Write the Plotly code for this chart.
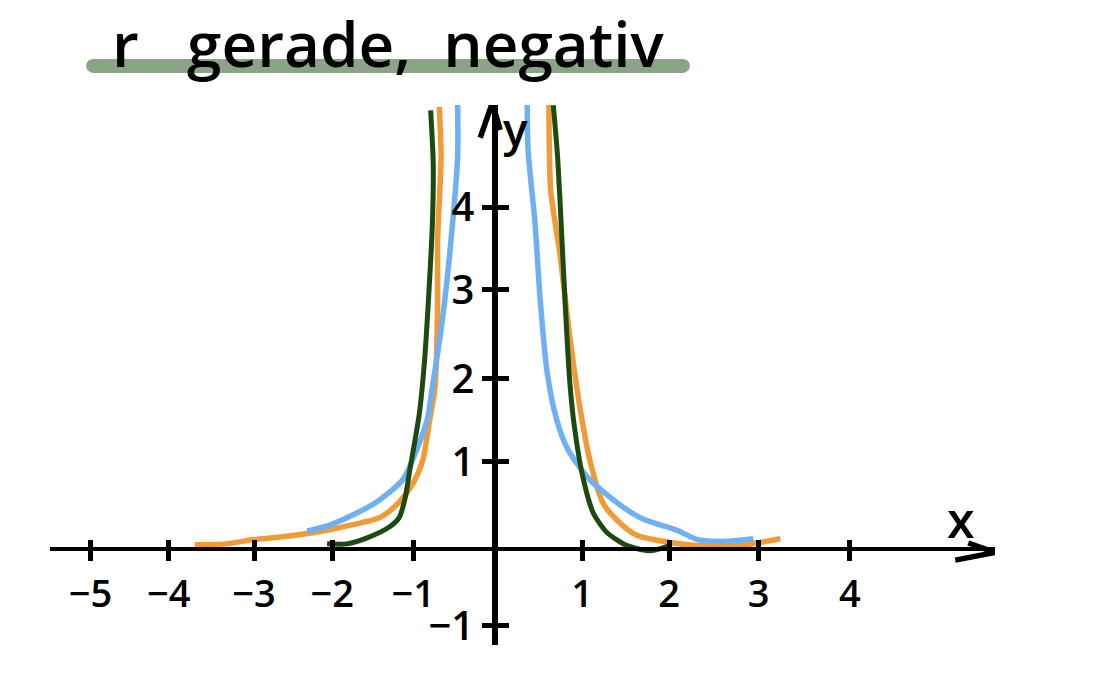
import plotly.graph_objects as go

# Curve values
orange_left_x = [-3.45,-3.10,-2.77,-2.47,-2.09,-1.70,-1.32,-1.11,-.94,-.83,-.75,-.69,-.66,-.66,-.62,-.64]
orange_left_y = [.05,.06,.11,.14,.19,.27,.37,.54,.77,1.04,1.51,1.89,2.83,3.61,4.58,5.17]
orange_right_x = [.62,.64,.75,.86,.94,1.00,1.09,1.24,1.40,1.63,2.05,2.32,2.82,3.01,3.28]
orange_right_y = [5.22,4.20,3.42,2.48,1.89,1.51,1.04,.54,.34,.16,.07,.04,.04,.07,.12]
blue_left_x = [-2.16,-1.90,-1.63,-1.36,-1.06,-.90,-.78,-.72,-.61,-.52,-.43,-.43]
blue_left_y = [.21,.28,.40,.55,.81,1.16,1.51,1.89,2.64,3.46,4.58,5.23]
blue_right_x = [.37,.38,.46,.52,.60,.71,.84,1.09,1.47,1.70,2.09,2.33,2.67,2.97]
blue_right_y = [5.22,4.67,3.81,2.91,2.06,1.51,1.16,.81,.49,.35,.22,.11,.09,.12]
green_left_x = [-1.93,-1.70,-1.47,-1.21,-1.10,-1.03,-.98,-.92,-.87,-.81,-.76,-.72,-.71,-.74]
green_left_y = [.06,.06,.13,.26,.37,.61,.92,1.27,1.58,2.20,3.00,3.80,4.51,5.13]
green_right_x = [.67,.72,.77,.81,.86,.91,1.01,1.13,1.29,1.52,1.78,2.01]
green_right_y = [5.19,4.58,3.61,2.80,1.95,1.45,.84,.42,.19,.04,-.02,.04]

# Tick marks sit where they were hand-drawn, so they are not evenly spaced
x_tick_vals = [-4.65,-3.75,-2.77,-1.87,-.94,1.0,2.0,3.03,4.08]
x_tick_text = ["−5","−4","−3","−2","−1","1","2","3","4"]
y_tick_vals = [-.9,1.02,1.99,3.03,4.0]
y_tick_text = ["−1","1","2","3","4"]

x_arrow_x = [5.44,5.75,5.29]
x_arrow_y = [.07,-.04,-.13]
y_arrow_x = [-.17,-.03,.06]
y_arrow_y = [4.81,5.22,4.90]

title_text = "r\u00a0\u00a0\u00a0gerade,\u00a0\u00a0negativ"
title_bar_x = [-4.62,2.16]
title_bar_y = [5.65,5.65]

ORANGE, BLUE, GREEN, BAR = "#f19a38", "#6fb0f5", "#1d4a10", "#8aa585"
W, H = 1114, 677
X0, XU, Y0, YU = 495, 87, 549, 85.5
XL, XR, YB, YT = 50, 995, 645, 105
xr = [(XL-X0)/XU, (XR-X0)/XU]
yr = [(Y0-YB)/YU, (Y0-YT)/YU]
FONT = "Open Sans"

fig = go.Figure()
for xs, ys, col, w in [
    (orange_left_x, orange_left_y, ORANGE, 5.5),
    (orange_right_x, orange_right_y, ORANGE, 5.5),
    (blue_left_x, blue_left_y, BLUE, 5.5),
    (blue_right_x, blue_right_y, BLUE, 5.5),
    (green_left_x, green_left_y, GREEN, 5),
    (green_right_x, green_right_y, GREEN, 5),
]:
    fig.add_trace(go.Scatter(x=xs, y=ys, mode="lines", showlegend=False, hoverinfo="skip",
                             line=dict(color=col, width=w, shape="spline", smoothing=0.7)))

for xs, ys in [(x_arrow_x, x_arrow_y), (y_arrow_x, y_arrow_y)]:
    fig.add_trace(go.Scatter(x=xs, y=ys, xaxis="x2", yaxis="y2", mode="lines", showlegend=False,
                             hoverinfo="skip", line=dict(color="black", width=5.5)))

fig.add_trace(go.Scatter(x=title_bar_x, y=title_bar_y, xaxis="x3", yaxis="y3", mode="lines+markers",
                         showlegend=False, hoverinfo="skip",
                         line=dict(color=BAR, width=14), marker=dict(color=BAR, size=14)))

dom_x = [XL/W, XR/W]
dom_y = [(H-YB)/H, (H-YT)/H]
pos_x = (H-Y0)/H
pos_y = X0/W

fig.update_layout(
    width=W, height=H, margin=dict(l=0, r=0, t=0, b=0, autoexpand=False),
    paper_bgcolor="white", plot_bgcolor="rgba(0,0,0,0)", showlegend=False,
    font=dict(family=FONT, color="black"),
    xaxis=dict(domain=dom_x, range=xr, anchor="free", position=pos_x, showgrid=False, zeroline=False,
               showline=True, linecolor="black", linewidth=4,
               ticks="outside", ticklen=10, tickwidth=4.5, tickcolor="black",
               tickvals=x_tick_vals, ticktext=x_tick_text, ticklabelstandoff=0,
               tickfont=dict(size=38, family=FONT, weight=600)),
    yaxis=dict(domain=dom_y, range=yr, anchor="free", position=pos_y, showgrid=False, zeroline=False,
               showline=True, linecolor="black", linewidth=5.5,
               ticks="outside", ticklen=10, tickwidth=4.5, tickcolor="black",
               tickvals=y_tick_vals, ticktext=y_tick_text, ticklabelstandoff=0,
               tickfont=dict(size=40, family=FONT, weight=600)),
    xaxis2=dict(domain=dom_x, range=xr, anchor="free", position=pos_x, overlaying="x", side="top",
                showgrid=False, zeroline=False, showline=False, showticklabels=False,
                ticks="outside", ticklen=9, tickwidth=4.5, tickcolor="black", tickvals=x_tick_vals),
    yaxis2=dict(domain=dom_y, range=yr, anchor="free", position=pos_y, overlaying="y", side="right",
                showgrid=False, zeroline=False, showline=False, showticklabels=False,
                ticks="outside", ticklen=13, tickwidth=4.5, tickcolor="black", tickvals=y_tick_vals),
    xaxis3=dict(domain=[0, 1], range=[-X0/XU, (W-X0)/XU], anchor="y3", visible=False),
    yaxis3=dict(domain=[0, 1], range=[(Y0-H)/YU, Y0/YU], anchor="x3", visible=False),
    annotations=[
        dict(x=388/W, y=1-43/H, xref="paper", yref="paper", text=title_text, showarrow=False,
             xanchor="center", yanchor="middle",
             font=dict(size=62, family=FONT, color="black", weight=600)),
        dict(x=961/W, y=1-519/H, xref="paper", yref="paper", text="x", showarrow=False,
             xanchor="center", yanchor="middle",
             font=dict(size=50, family=FONT, color="black", weight=600)),
        dict(x=515/W, y=1-128/H, xref="paper", yref="paper", text="y", showarrow=False,
             xanchor="center", yanchor="middle",
             font=dict(size=46, family=FONT, color="black", weight=600)),
    ],
)
fig.write_html("out.html", config={"displayModeBar": False},
               post_script="document.body.style.margin='0';")
